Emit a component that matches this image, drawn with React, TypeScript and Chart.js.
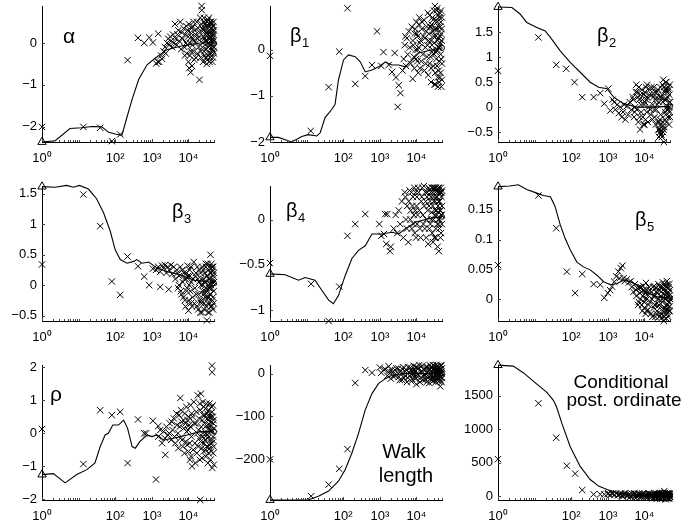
import React, { useEffect, useRef } from "react";
import { Chart, registerables } from "chart.js";

Chart.register(...registerables);

const FONT = "'Liberation Sans', Arial, Helvetica, sans-serif";

// ---------- shared x axis ----------
const X_MIN = 1;
const X_MAX = 50000;
const X_TICKS = [1, 100, 1000, 10000];
const X_TICK_LABELS = ["10\u2070", "10\u00B2", "10\u00B3", "10\u2074"];

// ---------- alpha ----------
const alphaTicks = [-2, -1, 0];
const alphaRange = [-2.36, 0.88];
const alphaLine = [[1,-2.36],[2.3,-2.33],[5.8,-2.04],[12,-2.02],[23,-1.99],[43,-2.0],[66,-2.13],[100,-2.17],[152,-2.2],[200,-1.83],[288,-1.35],[437,-0.87],[740,-0.52],[1250,-0.36],[2600,-0.16],[6000,-0.08],[21000,0],[50000,0]];
const alphaPoints = [[1,-2.0],[13.5,-2.0],[39,-2.02],[81,-2.34],[137,-2.18],[218,-0.41],[420,0.12],[620,0.0],[850,0.13],[1070,0.01],[1500,0.22],[1320,-0.49],[1450,-0.45],
[1600,-0.45],[1800,-0.3],[1900,-0.38],[2100,-0.2],[2300,-0.1],[2400,-0.25],[2600,0.0],[2800,0.1],[3000,-0.05],[3200,0.15],[3400,0.05],[3600,-0.1],[3800,0.2],[4000,0.0],
[4300,0.45],[4500,0.1],[4800,-0.05],[5000,0.2],[5300,0.3],[5600,0.05],[6000,0.5],[6300,-0.15],[6600,0.25],[7000,0.1],[7400,0.35],[7800,-0.1],[8200,0.2],[8600,0.0],[9000,-0.25],[9500,0.3],
[10000,-0.45],[10500,-0.6],[11000,-0.3],[11500,-0.7],[12000,0.15],[12500,-0.55],[13000,0.4],[13500,-0.2],[14000,0.05],[15000,0.3],[16000,-0.35],[17000,0.5],[18000,0.1],[19000,-0.1],[20000,-0.88],[20500,0.25],
[21000,0.6],[22000,-0.2],[23000,0.88],[23200,0.78],[24000,0.35],[25000,-0.45],[26000,0.15],[27000,0.5],[28000,-0.3],[29000,0.05],[30000,0.4],[31000,-0.15],[32000,0.25],[33000,-0.4],[34000,0.55],[35000,0.0],[36000,0.3],[37000,-0.25],[38000,0.45],[39000,0.1],[40000,-0.35],[41000,0.2],[42000,0.5],[43000,-0.1],[44000,0.35],[45000,-0.45],[46000,0.15],[47000,0.4],[48000,-0.2],[49000,0.05],[50000,0.3],[26500,0.6],[31500,-0.5],[36500,0.6],[41500,-0.05],[46500,0.25],[29500,0.2],[34500,-0.1],[39500,0.5],[44500,0.1]];
const alphaDense = [[8000,-0.3],[8800,0.4],[9300,-0.05],[9800,0.15],[10200,0.45],[10800,0.0],[11200,0.25],[11800,-0.2],[12300,0.35],[12800,-0.05],[13300,0.1],[13800,0.5],[14500,-0.4],[15500,0.2],[16500,0.0],[17500,-0.25],[18500,0.35],[19500,0.15],[21500,-0.35],[22500,0.45],[24500,0.0],[25500,0.3],[26800,-0.2],[27500,0.1],[28500,0.45],[29800,-0.35],[30500,0.05],[32500,0.5],[33500,0.2],[34800,-0.3],[35500,0.4],[36800,0.1],[37500,-0.45],[38500,0.25],[40500,0.35],[41800,-0.25],[42500,0.05],[43500,0.45],[44800,-0.15],[45500,0.3],[46800,-0.35],[47500,0.2],[48500,0.5],[49500,-0.25],[24200,-0.1],[30200,0.3],[35200,-0.05],[40200,0.15],[45200,0.05],[50000,-0.1]];

// ---------- beta1 ----------
const beta1Ticks = [-2, -1, 0];
const beta1Range = [-2.0, 0.95];
const beta1Line = [[1,-1.9],[1.7,-1.9],[3.9,-2.0],[7.4,-1.88],[11,-1.84],[19,-1.87],[23.5,-1.8],[32,-1.47],[49,-1.29],[60,-1.18],[74,-0.66],[102,-0.22],[139,-0.11],[213,-0.15],[292,-0.26],[400,-0.48],[610,-0.44],[930,-0.37],[1420,-0.26],[2150,-0.33],[3300,-0.33],[5000,-0.37],[7600,-0.22],[11500,-0.07],[27000,0],[50000,0.04]];
const beta1Points = [[1,-0.13],[13,-1.76],[40,-0.81],[78,-0.04],[131,0.9],[213,-0.74],[400,-0.57],[610,-0.33],[840,0.4],[1100,-0.35],[1260,-0.05],[1750,-0.33],[2150,-0.48],[2550,-0.07],[2760,-0.6],[3300,-0.77],[3650,-0.94],[3080,-1.24],[5000,0.29],
[4200,-0.45],[4500,-0.2],[4800,0.1],[5200,-0.35],[5500,0.25],[5800,-0.1],[6200,0.4],[6600,0.05],[7000,-0.3],[7500,0.5],[8000,0.2],[8500,-0.15],[9000,0.35],[9500,0.0],[7900,-0.63],
[10000,0.6],[10500,-0.25],[11000,0.3],[11500,0.05],[12000,0.7],[12500,-0.4],[13000,0.2],[14000,0.45],[15000,-0.1],[16000,0.65],[17000,0.25],[18000,-0.3],[19000,0.5],[20000,0.1],[21000,-0.55],[22000,0.35],[23000,0.75],[24000,-0.15],[25000,0.2],[26000,0.55],[27000,-0.05],[28000,0.4],[29000,-0.35],[30000,0.85],[31000,0.15],[32000,0.95],[33000,-0.75],[34000,0.3],[35000,-0.2],[36000,0.6],[37000,0.0],[38000,0.45],[39000,-0.8],[40000,0.25],[41000,-0.45],[42000,0.7],[43000,0.1],[44000,-0.6],[45000,0.5],[46000,-0.1],[47000,0.35],[48000,-0.8],[49000,0.2],[50000,-0.3],[35500,0.85],[28500,0.65],[33500,0.45],[39500,0.75],[44500,0.3],[24500,0.5],[20500,0.8]];
const beta1Dense = [[8200,0.1],[8800,-0.4],[9300,0.45],[9800,-0.2],[10300,0.35],[10800,0.0],[11300,-0.5],[11800,0.55],[12300,0.15],[13500,-0.25],[14500,0.6],[15500,0.3],[16500,-0.45],[17500,0.05],[18500,0.4],[19500,-0.15],[21500,0.2],[22500,-0.3],[23500,0.5],[25500,-0.4],[26500,0.1],[27500,0.7],[29800,0.3],[30500,-0.1],[31500,0.45],[32500,-0.5],[34500,0.65],[36500,-0.35],[37500,0.2],[38500,-0.6],[40500,0.5],[41500,0.05],[42500,-0.25],[43500,0.8],[45500,-0.5],[46500,0.6],[47500,-0.2],[48500,0.45],[49500,-0.65],[50000,0.7],[25000,-0.7],[31000,-0.75],[37000,0.9],[42000,-0.7],[47000,0.85],[28000,0.0],[34000,-0.05],[40000,0.05],[45000,0.15]];

// ---------- beta2 ----------
const beta2Ticks = [-0.5, 0, 0.5, 1, 1.5];
const beta2Range = [-0.7, 2.03];
const beta2Line = [[1,2.01],[2.4,2.0],[4,1.87],[6.1,1.7],[11.5,1.6],[19.4,1.53],[27,1.4],[50,1.13],[94,0.9],[176,0.7],[330,0.5],[560,0.4],[950,0.37],[1450,0.2],[2700,0.07],[6300,0],[14600,0],[33600,0.01],[50000,0.01]];
const beta2Points = [[1,0.73],[12.7,1.4],[39,0.85],[73,0.77],[123,0.5],[200,0.2],[410,0.2],[620,0.28],[800,0.07],[1030,0.37],[1170,-0.07],[1350,0.15],
[1500,0.1],[1600,-0.05],[1800,0.05],[2000,-0.12],[2200,0.0],[2400,-0.2],[2600,-0.1],[2800,0.05],[3000,-0.25],[3300,0.02],[3600,-0.15],[4000,0.1],[4400,-0.05],[4800,0.2],[5200,-0.2],[5600,0.0],[6000,0.45],[6400,0.3],[6800,-0.3],[7200,0.15],[7600,-0.45],[8000,0.05],[8500,0.35],[9000,-0.2],[9500,0.25],[10000,-0.35],[10500,0.1],[11000,0.4],[11500,-0.1],[12000,0.2],[13000,0.0],[14000,0.35],[15000,-0.15],[16000,0.25],[17000,0.05],[18000,0.4],[19000,-0.2],[20000,0.15],[21000,-0.05],[22000,0.3],[23000,-0.3],[24000,-0.45],[25000,-0.6],[26000,-0.45],[27000,-0.5],[28000,-0.55],[29000,0.2],[30000,-0.6],[31000,0.45],[32000,-0.5],[33000,0.55],[34000,-0.7],[35000,-0.4],[36000,0.3],[37000,-0.1],[38000,0.5],[39000,0.15],[40000,-0.3],[41000,0.35],[42000,-0.05],[43000,0.2],[44000,-0.2],[45000,0.4],[46000,0.0],[47000,-0.35],[48000,0.25],[49000,-0.1],[50000,0.1],[26500,-0.25],[27500,0.4],[28500,-0.35],[29500,-0.4]];
const beta2Dense = [[5000,0.15],[5400,-0.1],[5800,0.3],[6200,-0.05],[6600,0.2],[7000,0.4],[7400,-0.2],[7800,0.25],[8200,-0.1],[8800,0.15],[9300,-0.35],[9800,0.05],[10300,0.3],[10800,-0.25],[11300,0.15],[11800,0.45],[12500,-0.3],[13500,0.25],[14500,-0.05],[15500,0.4],[16500,-0.25],[17500,0.2],[18500,-0.05],[19500,0.3],[20500,-0.35],[21500,0.2],[22500,0.05],[23500,0.35],[24500,0.1],[25500,-0.3],[26800,0.2],[27800,-0.15],[29000,-0.55],[30500,0.25],[31500,-0.3],[32500,0.1],[33500,-0.45],[34500,0.4],[35500,0.15],[36500,-0.25],[37500,0.35],[38500,-0.15],[39500,0.5],[40500,0.0],[42500,0.3],[44500,-0.05],[46500,0.35],[48500,0.1],[49500,0.45],[50000,-0.2]];

// ---------- beta3 ----------
const beta3Ticks = [-0.5, 0, 0.5, 1, 1.5];
const beta3Range = [-0.59, 1.63];
const beta3Line = [[1,1.62],[2.3,1.61],[4.7,1.64],[7.2,1.61],[10.5,1.64],[18.6,1.58],[31,1.42],[48,1.19],[73,0.89],[100,0.58],[137,0.42],[210,0.36],[320,0.39],[390,0.42],[540,0.36],[820,0.38],[1400,0.28],[2600,0.22],[6000,0.17],[14000,0.08],[32000,0.06],[50000,0.03]];
const beta3Points = [[1,0.34],[13.5,1.49],[39,0.97],[81,0.06],[137,-0.16],[218,0.47],[420,0.31],[620,0.14],[850,0.0],[1070,0.27],[1700,-0.03],[2900,-0.07],
[1300,0.25],[1500,0.3],[1700,0.22],[1900,0.32],[2100,0.28],[2300,0.33],[2500,0.2],[2700,0.3],[3000,0.25],[3300,0.33],[3600,0.18],[4000,0.3],[4400,0.1],[4800,0.25],[5200,-0.05],[5600,0.15],[6000,0.3],[6500,-0.15],[7000,0.05],[7500,0.2],[8000,-0.25],[8500,0.1],[9000,-0.1],[9500,0.32],[10000,-0.42],[10500,0.0],[11000,0.15],[11500,-0.3],[12000,0.05],[13000,-0.2],[14000,0.38],[15000,-0.05],[16000,0.2],[17000,-0.35],[18000,0.1],[19000,-0.15],[20000,0.25],[21000,-0.45],[22000,0.0],[23000,-0.25],[24000,0.3],[25000,-0.1],[26000,0.1],[27000,-0.4],[28000,0.2],[29000,-0.2],[30000,0.35],[31000,-0.05],[32000,-0.58],[33000,0.15],[34000,-0.3],[35000,0.0],[36000,0.25],[37000,-0.45],[38000,0.1],[39000,-0.15],[40000,0.5],[41000,-0.35],[42000,0.2],[43000,-0.05],[44000,0.3],[45000,-0.25],[46000,0.1],[47000,-0.4],[48000,0.15],[49000,-0.1],[50000,0.05],[22500,-0.3],[26500,-0.15],[29500,0.05],[35500,-0.2],[38500,-0.05]];
const beta3Dense = [[5000,0.2],[5500,0.0],[6200,-0.1],[6800,0.25],[7300,-0.2],[7800,0.1],[8300,-0.35],[8800,0.2],[9300,-0.05],[9800,0.15],[10300,-0.25],[10800,0.25],[11300,-0.1],[11800,0.3],[12500,-0.35],[13500,0.1],[14500,-0.3],[15500,0.15],[16500,-0.15],[17500,0.3],[18500,-0.4],[19500,0.05],[20500,-0.25],[21500,0.2],[22500,0.1],[23500,-0.45],[24500,0.0],[25500,0.25],[26800,-0.3],[27500,0.05],[28500,-0.1],[29800,0.3],[30500,-0.35],[31500,0.15],[32500,-0.2],[33500,0.35],[34500,-0.45],[35800,0.1],[36500,-0.05],[37500,0.3],[38800,-0.3],[39800,0.2],[40500,-0.15],[41500,0.0],[42500,0.35],[43500,-0.35],[44500,0.05],[45500,0.25],[46500,-0.2],[47500,0.3],[48500,-0.3],[49500,0.2]];

// ---------- beta4 ----------
const beta4Ticks = [-1, -0.5, 0];
const beta4Range = [-1.12, 0.37];
const beta4Line = [[1,-0.6],[2.6,-0.61],[6,-0.67],[9.1,-0.64],[17,-0.67],[26,-0.78],[40,-0.89],[54,-0.93],[74,-0.84],[113,-0.62],[173,-0.43],[262,-0.34],[400,-0.29],[610,-0.16],[1150,-0.16],[2150,-0.14],[3300,-0.16],[5000,-0.1],[9400,-0.03],[21700,0.01],[50000,0.03]];
const beta4Points = [[1,-0.48],[13.3,-0.71],[40,-1.12],[78,-0.74],[131,-0.18],[213,-0.05],[400,0.06],[970,-0.05],[1100,-0.18],[1400,0.06],[1600,0.06],[1500,-0.27],[1900,-0.35],[2000,-0.3],[1300,-0.16],
[2400,-0.1],[2700,0.05],[3000,-0.15],[3300,0.1],[3600,-0.05],[4000,0.2],[4400,-0.2],[4800,0.3],[5200,0.0],[5600,0.15],[6000,-0.25],[6500,0.32],[7000,0.1],[7500,-0.1],[8000,0.25],[8500,0.05],[9000,-0.15],[9500,0.3],[10000,0.15],[10500,-0.05],[11000,0.35],[12000,0.1],[13000,-0.2],[14000,0.25],[15000,0.05],[16000,0.37],[17000,-0.1],[18000,0.2],[19000,0.0],[20000,0.3],[21000,-0.27],[22000,0.15],[23000,0.33],[24000,-0.05],[25000,0.25],[26000,0.08],[27000,-0.15],[28000,0.3],[29000,0.0],[30000,0.2],[31000,-0.2],[32000,0.35],[33000,0.1],[34000,-0.1],[35000,0.25],[36000,0.05],[37000,0.32],[38000,-0.3],[39000,0.15],[40000,-0.05],[41000,-0.35],[42000,0.0],[43000,0.2],[44000,0.28],[45000,0.3],[46000,0.1],[47000,-0.15],[48000,0.25],[49000,0.05],[50000,0.15],[27500,0.35],[33500,0.3],[39500,0.35]];
const beta4Dense = [[5000,0.25],[5500,-0.1],[6200,0.2],[6800,0.0],[7300,0.3],[7800,0.15],[8300,-0.05],[8800,0.35],[9300,0.1],[9800,-0.2],[10300,0.25],[10800,0.05],[11500,0.3],[12500,-0.1],[13500,0.2],[14500,0.35],[15500,-0.05],[16500,0.15],[17500,0.3],[18500,-0.2],[19500,0.25],[20500,0.1],[21500,0.35],[22500,-0.1],[23500,0.2],[24500,0.3],[25500,0.0],[26500,0.35],[27800,0.15],[28500,-0.25],[29500,0.25],[30500,0.35],[31500,0.05],[32500,0.2],[33800,-0.2],[34500,0.35],[35500,0.1],[36500,0.25],[37800,-0.05],[38500,0.3],[39800,0.0],[40500,0.2],[41500,0.35],[42500,-0.1],[43500,0.1],[44500,0.3],[45500,-0.2],[46500,0.35],[47500,0.05],[48500,0.3],[49500,-0.05],[50000,0.32]];

// ---------- beta5 ----------
const beta5Ticks = [0, 0.05, 0.1, 0.15];
const beta5Range = [-0.037, 0.19];
const beta5Line = [[1,0.189],[2.1,0.19],[3.6,0.192],[6.1,0.184],[11.5,0.178],[17.4,0.174],[27,0.172],[36,0.156],[50,0.125],[68,0.102],[94,0.083],[143,0.062],[216,0.054],[330,0.049],[505,0.04],[770,0.029],[1170,0.024],[1800,0.026],[2700,0.032],[4100,0.029],[6300,0.024],[11800,0.01],[22000,0.004],[50000,0.001]];
const beta5Points = [[1,0.057],[12.7,0.174],[39,0.119],[76,0.046],[128,0.01],[200,0.042],[410,0.025],[620,0.024],[800,0.002],
[1000,0.01],[1150,0.015],[1300,0.021],[1500,0.029],[1700,0.038],[1950,0.046],[2250,0.052],[2500,0.056],[2100,0.035],[2700,0.035],[2900,0.03],[3300,0.033],[3800,0.028],[4200,0.03],
[4500,0.02],[5000,0.012],[5500,0.025],[6000,0.005],[6500,0.018],[7000,-0.005],[7500,0.01],[8000,0.02],[8500,-0.01],[9000,0.005],[9500,0.015],[10000,-0.015],[10500,0.0],[11000,0.027],[11500,-0.02],[12000,0.008],[13000,-0.01],[14000,0.015],[15000,-0.025],[16000,0.0],[17000,0.02],[18000,-0.015],[19000,0.005],[20000,-0.03],[21000,0.012],[22000,-0.02],[23000,0.0],[24000,0.025],[25000,-0.01],[26000,0.015],[27000,-0.028],[28000,0.005],[29000,-0.025],[30000,0.02],[31000,-0.005],[32000,0.028],[33000,-0.015],[34000,-0.037],[35000,-0.03],[36000,0.0],[37000,0.022],[38000,-0.02],[39000,0.015],[40000,-0.01],[41000,0.03],[42000,-0.025],[43000,0.005],[44000,0.018],[45000,-0.015],[46000,0.01],[47000,-0.005],[48000,0.025],[49000,-0.02],[50000,0.0]];
const beta5Dense = [[6000,0.015],[6700,-0.01],[7300,0.02],[7800,0.0],[8300,0.012],[8800,-0.02],[9300,0.022],[9800,-0.005],[10300,0.01],[10800,-0.025],[11300,0.015],[11800,0.0],[12500,-0.018],[13500,0.02],[14500,-0.005],[15500,0.012],[16500,-0.03],[17500,0.005],[18500,0.022],[19500,-0.01],[20500,0.018],[21500,-0.025],[22500,0.01],[23500,-0.012],[24500,0.0],[25500,-0.03],[26500,0.02],[27500,-0.008],[28500,0.012],[29500,-0.032],[30500,0.0],[31500,-0.02],[32500,0.015],[33500,-0.028],[34500,0.008],[35500,0.025],[36500,-0.015],[37500,0.0],[38500,-0.032],[39500,0.02],[40500,-0.02],[41500,0.01],[42500,0.025],[43500,-0.01],[44500,-0.03],[45500,0.02],[46500,-0.02],[47500,0.005],[48500,-0.012],[49500,0.015]];

// ---------- rho ----------
const rhoTicks = [-2, -1, 0, 1, 2];
const rhoRange = [-2.02, 2.07];
const rhoLine = [[1,-1.25],[2.04,-1.22],[4.3,-1.5],[8.9,-1.25],[16.8,-1.1],[28,-0.9],[39,-0.4],[53,-0.05],[65,0],[86,0.25],[123,0.25],[170,0.4],[218,0.15],[290,-0.4],[355,-0.45],[470,-0.25],[740,-0.05],[1000,-0.1],[1380,-0.05],[2100,-0.2],[3950,-0.15],[9200,-0.05],[21000,0.05],[50000,0.05]];
const rhoPoints = [[1,0.13],[13.5,-0.93],[39,0.7],[81,0.55],[137,0.65],[218,-0.9],[420,0.42],[620,0.0],[700,0.0],[1070,0.38],[1300,-1.4],[1500,0.22],[2340,-0.65],[6000,1.07],[21000,-2.02],[44000,2.05],[44500,1.85],
[1500,-0.1],[1700,0.1],[1900,-0.3],[2100,0.05],[2300,-0.15],[2500,0.2],[2800,-0.05],[3100,0.3],[3400,-0.2],[3700,0.1],[4000,0.45],[4400,-0.3],[4800,0.25],[5200,0.0],[5600,0.55],[6000,-0.15],[6500,0.35],[7000,-0.4],[7500,0.15],[8000,0.6],[8500,-0.25],[9000,0.05],[9500,0.4],[10000,-0.55],[10500,0.25],[11000,-0.8],[11500,0.85],[12000,-0.1],[12500,-1.0],[13000,0.5],[14000,0.95],[15000,-0.3],[16000,0.3],[17000,-0.6],[18000,1.15],[19000,0.1],[20000,-0.15],[21000,0.7],[22000,1.2],[23000,-0.45],[24000,0.4],[25000,0.0],[26000,0.8],[27000,-0.3],[28000,0.55],[29000,0.2],[30000,-0.7],[31000,0.9],[32000,-0.05],[33000,0.45],[34000,-0.9],[35000,0.25],[36000,0.7],[37000,-0.35],[38000,0.1],[39000,0.6],[40000,-0.2],[41000,0.35],[42000,-0.55],[43000,0.8],[44000,0.05],[45000,-1.05],[46000,0.5],[47000,-0.1],[48000,0.3],[49000,-0.4],[50000,0.15],[20500,-0.8],[24500,0.95],[29500,-0.5],[36500,0.5]];
const rhoDense = [[3000,0.0],[3500,0.35],[4200,-0.1],[4700,0.6],[5300,-0.45],[5800,0.2],[6300,0.7],[6800,-0.2],[7300,0.4],[7800,-0.6],[8300,0.3],[8800,0.8],[9300,-0.35],[9800,0.1],[10300,0.5],[10800,-0.3],[11300,0.2],[11800,-0.7],[12300,0.6],[13500,-0.5],[14500,0.3],[15500,-0.9],[16500,0.65],[17500,0.0],[18500,-0.4],[19500,0.45],[20500,0.9],[21500,-0.25],[22500,0.2],[23500,-0.75],[24500,-0.1],[25500,0.55],[26500,-0.55],[27500,0.3],[28500,-0.2],[29500,0.75],[30500,0.0],[31500,-0.4],[32500,0.6],[33500,-0.15],[34500,0.4],[35500,-0.6],[36500,0.15],[37500,0.9],[38500,-0.45],[39500,0.25],[40500,-0.8],[41500,0.5],[42500,0.1],[43500,-0.3],[44500,0.65],[45500,-0.2],[46500,0.85],[47500,-0.6],[48500,0.4],[49500,-0.95]];

// ---------- walk length ----------
const walkTicks = [-200, -100, 0];
const walkRange = [-296, 20];
const walkLine = [[1,-296],[11,-296],[21,-287],[40,-275],[74,-252],[113,-225],[173,-186],[262,-140],[400,-85],[610,-47],[930,-23],[1420,-12],[2150,-4],[5000,0],[50000,0]];
const walkPoints = [[1,-201],[13.3,-287],[40,-260],[78,-223],[131,-177],[213,-22],[400,8],[610,2],[1000,14],[1100,2],[1300,9],[1750,17],
[1400,10],[1600,-5],[1800,5],[2000,-12],[2200,3],[2400,-8],[2600,8],[2900,-3],[3200,12],[3500,-15],[3800,0],[4200,10],[4600,-10],[5000,5],[5500,-20],[6000,15],[6500,-5],[7000,8],[7500,-12],[8000,2],[8500,18],[9000,-8],[9500,5],[10000,-25],[10500,12],[11000,-2],[12000,20],[13000,-10],[14000,6],[15000,-15],[16000,10],[17000,-5],[18000,15],[19000,-20],[20000,3],[21000,12],[22000,-8],[23000,20],[24000,-12],[25000,5],[26000,-3],[27000,15],[28000,-18],[29000,8],[30000,0],[31000,18],[32000,-10],[33000,10],[34000,-5],[35000,20],[36000,-15],[37000,5],[38000,12],[39000,-8],[40000,2],[41000,15],[42000,-12],[43000,8],[44000,-3],[45000,-30],[46000,10],[47000,-8],[48000,18],[49000,0],[50000,-10]];
const walkDense = [[2100,8],[2500,-3],[2800,12],[3300,-8],[3700,5],[4000,-15],[4400,15],[4900,-5],[5300,8],[5800,-10],[6300,3],[6800,14],[7300,-18],[7800,6],[8300,-2],[8800,10],[9300,-12],[9800,16],[10300,0],[10800,-8],[11500,12],[12500,-20],[13500,4],[14500,18],[15500,-6],[16500,8],[17500,-14],[18500,2],[19500,16],[20500,-10],[21500,6],[22500,-22],[23500,10],[24500,-5],[25500,14],[26500,-12],[27500,4],[28500,20],[29500,-8],[30500,10],[31500,-15],[32500,5],[33500,-20],[34500,15],[35500,0],[36500,8],[37500,-12],[38500,18],[39500,-2],[40500,-18],[41500,6],[42500,14],[43500,-8],[44500,10],[45500,-15],[46500,20],[47500,4],[48500,-20],[49500,12]];

// ---------- conditional posterior ordinate ----------
const condTicks = [0, 500, 1000, 1500];
const condRange = [-60, 1960];
const condLine = [[1,1958],[2.6,1943],[4.9,1845],[11.5,1673],[21.6,1550],[33,1427],[40,1328],[56,1082],[94,738],[176,443],[330,246],[560,148],[950,98],[1800,49],[4100,15],[14600,0],[50000,0]];
const condPoints = [[1,551],[12.7,1387],[39,871],[76,453],[128,335],[200,89],[410,25],[620,25],[800,25],[1030,40],[1400,40],
[1000,30],[1150,20],[1300,35],[1500,15],[1700,40],[1900,10],[2100,30],[2400,5],[2700,25],[3000,45],[3300,0],[3700,20],[4100,-10],[4500,35],[5000,10],[5500,-20],[6000,25],[6600,0],[7200,40],[7800,-15],[8500,15],[9200,30],[10000,-5],[11000,20],[12000,-25],[13000,35],[14000,5],[15000,-15],[16000,25],[17000,-30],[18000,10],[19000,40],[20000,-10],[21000,20],[22000,-40],[23000,0],[24000,30],[25000,-20],[26000,15],[27000,-45],[28000,5],[29000,35],[30000,-10],[31000,20],[32000,-30],[33000,45],[34000,0],[35000,74],[36000,-25],[37000,15],[38000,-50],[39000,30],[40000,-5],[41000,25],[42000,-35],[43000,10],[44000,40],[45000,-20],[46000,20],[47000,-40],[48000,5],[49000,35],[50000,-15]];
const condDense = [[2000,15],[2300,35],[2600,-5],[3100,20],[3500,10],[3900,30],[4300,-5],[4800,25],[5300,40],[5800,5],[6300,-15],[6800,30],[7500,10],[8000,-10],[8800,35],[9500,0],[10500,25],[11500,-15],[12500,10],[13500,40],[14500,-5],[15500,20],[16500,0],[17500,30],[18500,-20],[19500,15],[20500,-30],[21500,35],[22500,5],[23500,-15],[24500,20],[25500,45],[26500,-10],[27500,25],[28500,-25],[29500,10],[30500,40],[31500,-5],[32500,15],[33500,-20],[34500,30],[35500,0],[36500,45],[37500,-30],[38500,10],[39500,-10],[40500,35],[41500,-25],[42500,5],[43500,20],[44500,-15],[45500,40],[46500,0],[47500,-30],[48500,25],[49500,-5]];

// ---------- layout (page pixels) ----------
const PAGE_W = 684;
const PAGE_H = 532;
const COL_LEFT = [42, 270, 498];
const PLOT_W = 172;
const ROW_TOP = [6, 186, 365];
const ROW_BOTTOM = [142, 321, 500];
const Y_AXIS_W = 40;
const X_AXIS_H = 30;

type Label = { lines?: { text: string; cx: number; by: number }[]; main?: string; sub?: string; x?: number; y?: number; size: number };

const PANELS = [
  { row: 0, col: 0, ticks: alphaTicks, range: alphaRange, line: alphaLine, points: alphaPoints.concat(alphaDense), label: { main: "\u03B1", x: 63, y: 43, size: 21 } as Label },
  { row: 0, col: 1, ticks: beta1Ticks, range: beta1Range, line: beta1Line, points: beta1Points.concat(beta1Dense), label: { main: "\u03B2", sub: "1", x: 290, y: 42, size: 20 } as Label },
  { row: 0, col: 2, ticks: beta2Ticks, range: beta2Range, line: beta2Line, points: beta2Points.concat(beta2Dense), label: { main: "\u03B2", sub: "2", x: 597, y: 42, size: 20 } as Label },
  { row: 1, col: 0, ticks: beta3Ticks, range: beta3Range, line: beta3Line, points: beta3Points.concat(beta3Dense), label: { main: "\u03B2", sub: "3", x: 172, y: 218, size: 20 } as Label },
  { row: 1, col: 1, ticks: beta4Ticks, range: beta4Range, line: beta4Line, points: beta4Points.concat(beta4Dense), label: { main: "\u03B2", sub: "4", x: 286, y: 217, size: 20 } as Label },
  { row: 1, col: 2, ticks: beta5Ticks, range: beta5Range, line: beta5Line, points: beta5Points.concat(beta5Dense), label: { main: "\u03B2", sub: "5", x: 635, y: 226, size: 20 } as Label },
  { row: 2, col: 0, ticks: rhoTicks, range: rhoRange, line: rhoLine, points: rhoPoints.concat(rhoDense), label: { main: "\u03C1", x: 50, y: 401, size: 21 } as Label },
  { row: 2, col: 1, ticks: walkTicks, range: walkRange, line: walkLine, points: walkPoints.concat(walkDense), label: { lines: [{ text: "Walk", cx: 404, by: 458 }, { text: "length", cx: 406, by: 482 }], size: 20 } as Label },
  { row: 2, col: 2, ticks: condTicks, range: condRange, line: condLine, points: condPoints.concat(condDense), label: { lines: [{ text: "Conditional", cx: 621, by: 388 }, { text: "post. ordinate", cx: 624, by: 406 }], size: 19 } as Label },
];

function fmt(v: number): string {
  const s = String(v);
  return s.startsWith("-") ? "\u2212" + s.slice(1) : s;
}

const innerTicks = {
  id: "innerTicks",
  afterDatasetsDraw(chart: any) {
    const { ctx, chartArea, scales } = chart;
    const xs = scales.x;
    const ys = scales.y;
    ctx.save();
    ctx.lineWidth = 1;
    ctx.strokeStyle = "#444";
    ctx.beginPath();
    for (let k = 0; k < 5; k++) {
      for (let m = 1; m < 10; m++) {
        const v = m * Math.pow(10, k);
        if (v > X_MAX) continue;
        const px = Math.round(xs.getPixelForValue(v)) + 0.5;
        const len = X_TICKS.includes(v) ? 3 : 2;
        ctx.moveTo(px, chartArea.bottom);
        ctx.lineTo(px, chartArea.bottom - len);
      }
    }
    for (const t of ys.ticks) {
      const py = Math.round(ys.getPixelForValue(t.value)) + 0.5;
      ctx.moveTo(chartArea.left, py);
      ctx.lineTo(chartArea.left + 3, py);
    }
    ctx.stroke();
    ctx.restore();
  },
};

const panelLabel = {
  id: "panelLabel",
  afterDraw(chart: any, _args: any, opts: any) {
    const lab: Label = opts.label;
    if (!lab) return;
    const { ctx } = chart;
    ctx.save();
    ctx.fillStyle = "#000";
    ctx.textBaseline = "alphabetic";
    ctx.font = `${lab.size}px ${FONT}`;
    if (lab.lines) {
      ctx.textAlign = "center";
      for (const l of lab.lines) ctx.fillText(l.text, l.cx, l.by);
    } else if (lab.main) {
      ctx.textAlign = "left";
      ctx.fillText(lab.main, lab.x, lab.y);
      if (lab.sub) {
        const w = ctx.measureText(lab.main).width;
        ctx.font = `${Math.round(lab.size * 0.65)}px ${FONT}`;
        ctx.fillText(lab.sub, (lab.x as number) + w + 0.5, (lab.y as number) + 5);
      }
    }
    ctx.restore();
  },
};

function Panel({ p }: { p: (typeof PANELS)[number] }) {
  const ref = useRef<HTMLCanvasElement | null>(null);
  useEffect(() => {
    if (!ref.current) return;
    const left = COL_LEFT[p.col];
    const top = ROW_TOP[p.row];
    const bottom = ROW_BOTTOM[p.row];
    const toXY = (arr: number[][]) => arr.map(([x, y]) => ({ x, y }));
    const first = p.line[0];
    const last = p.line[p.line.length - 1];
    const chart = new Chart(ref.current, {
      type: "scatter",
      data: {
        datasets: [
          {
            data: toXY(p.line),
            showLine: true,
            borderColor: "#000",
            borderWidth: 1.1,
            pointRadius: 0,
            tension: 0,
            clip: false,
          } as any,
          {
            data: toXY(p.points),
            pointStyle: "crossRot",
            pointRadius: 4.5,
            borderColor: "#000",
            borderWidth: 1,
            backgroundColor: "#000",
            clip: false,
          } as any,
          {
            data: [{ x: first[0], y: first[1] }],
            pointStyle: "triangle",
            pointRadius: 4.8,
            borderColor: "#000",
            borderWidth: 1,
            backgroundColor: "rgba(0,0,0,0)",
            clip: false,
          } as any,
          {
            data: [{ x: last[0], y: last[1] }],
            pointStyle: "circle",
            pointRadius: 2.5,
            borderColor: "#000",
            borderWidth: 1,
            backgroundColor: "rgba(0,0,0,0)",
            clip: false,
          } as any,
        ],
      },
      options: {
        responsive: false,
        animation: false,
        devicePixelRatio: 1,
        layout: {
          padding: {
            left: left - Y_AXIS_W,
            right: PAGE_W - left - PLOT_W,
            top: top,
            bottom: PAGE_H - bottom - X_AXIS_H,
          },
        },
        plugins: {
          legend: { display: false },
          tooltip: { enabled: false },
          panelLabel: { label: p.label },
        } as any,
        scales: {
          x: {
            type: "logarithmic",
            min: X_MIN,
            max: X_MAX,
            afterBuildTicks: (s: any) => {
              s.ticks = X_TICKS.map((v) => ({ value: v }));
            },
            afterFit: (s: any) => {
              s.height = X_AXIS_H;
              s.paddingLeft = 0;
              s.paddingRight = 0;
            },
            ticks: {
              autoSkip: false,
              maxRotation: 0,
              color: "#000",
              padding: 9,
              font: { family: FONT, size: 13 },
              callback: (v: any) => {
                const i = X_TICKS.indexOf(Number(v));
                return i >= 0 ? X_TICK_LABELS[i] : "";
              },
            },
            grid: { display: true, drawOnChartArea: false, drawTicks: false },
            border: { display: true, color: "#000", width: 1 },
          },
          y: {
            type: "linear",
            min: p.range[0],
            max: p.range[1],
            afterBuildTicks: (s: any) => {
              s.ticks = p.ticks.map((v) => ({ value: v }));
            },
            afterFit: (s: any) => {
              s.width = Y_AXIS_W;
              s.paddingTop = 0;
              s.paddingBottom = 0;
            },
            ticks: {
              color: "#000",
              padding: 5,
              font: { family: FONT, size: 13 },
              callback: (v: any) => fmt(Number(v)),
            },
            grid: { display: true, drawOnChartArea: false, drawTicks: false },
            border: { display: true, color: "#000", width: 1 },
          },
        },
      } as any,
      plugins: [innerTicks, panelLabel],
    });
    return () => chart.destroy();
  }, [p]);
  return (
    <canvas
      ref={ref}
      width={PAGE_W}
      height={PAGE_H}
      style={{ position: "absolute", left: 0, top: 0, width: PAGE_W, height: PAGE_H }}
    />
  );
}

export default function App() {
  return (
    <div style={{ position: "fixed", left: 0, top: 0, width: PAGE_W, height: PAGE_H, background: "#fff", overflow: "hidden" }}>
      {PANELS.map((p, i) => (
        <Panel key={i} p={p} />
      ))}
    </div>
  );
}
